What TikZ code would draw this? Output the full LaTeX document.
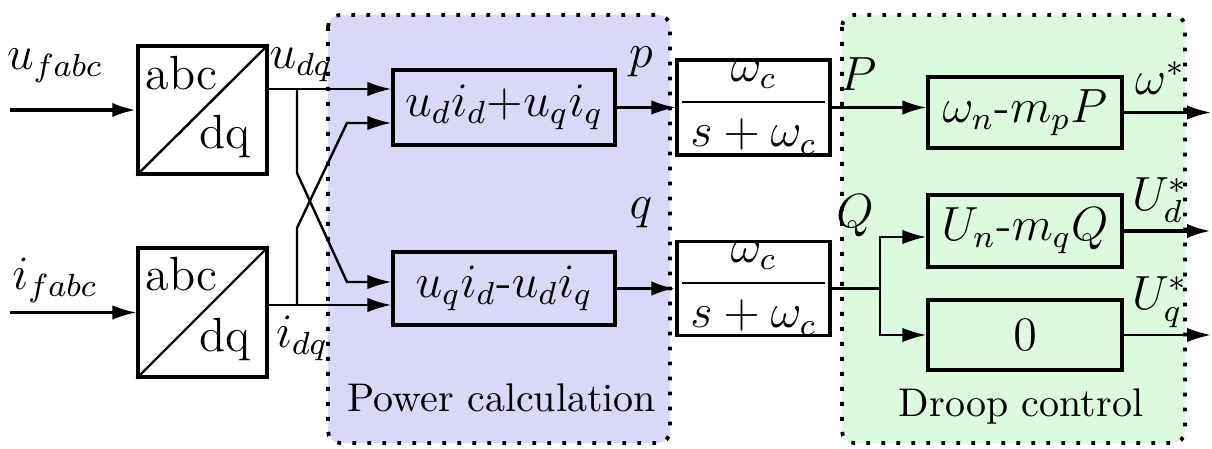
\documentclass[tikz,border=0pt]{standalone}
\usetikzlibrary{arrows.meta,calc}
\definecolor{pcfill}{RGB}{216,216,248}
\definecolor{dcfill}{RGB}{220,250,220}
\tikzset{
  blk/.style={draw, line width=0.8pt, inner sep=0pt, font=\large},
  arr/.style={line width=0.6pt, -{Latex[length=6pt,width=3.6pt]}},
  ln/.style={line width=0.6pt},
  region/.style={line width=0.95pt, dash pattern=on 0.95pt off 2.8pt, rounded corners=3pt},
  lbl/.style={font=\large, inner sep=0pt},
}
\begin{document}
\begin{tikzpicture}[x=0.25pt,y=-0.25pt]
\useasboundingbox (0,0) rectangle (1212,449);
% regions
\path[region, fill=pcfill, draw=black] (328,15) rectangle (670,443);
\path[region, fill=dcfill, draw=black] (842,15) rectangle (1185,443);
\node[font=\normalsize, inner sep=0pt] (pclab) at (502,398) {Power calculation};
\node[font=\normalsize, inner sep=0pt] (dclab) at (1021,407) {Droop control};

% abc/dq blocks
\node[blk, fill=white, minimum width=32.25pt, minimum height=32pt] (abc1) at (202.5,110) {};
\node[blk, fill=white, minimum width=32.25pt, minimum height=32.25pt] (abc2) at (202.5,312.5) {};
\draw[line width=0.6pt] (abc1.south west) -- (abc1.north east);
\draw[line width=0.6pt] (abc2.south west) -- (abc2.north east);
\node[lbl] (abc1t) at (181.5,73) {abc};
\node[lbl] (dq1t) at (225,137) {dq};
\node[lbl] (abc2t) at (181.5,274) {abc};
\node[lbl] (dq2t) at (225,340) {dq};

% power calculation blocks
\node[blk, minimum width=55.5pt, minimum height=18.75pt] (pc1) at (504,107.5) {$u_di_d$+$u_qi_q$};
\node[blk, minimum width=55.5pt, minimum height=18.25pt] (pc2) at (504,288.5) {$u_qi_d$-$u_di_q$};

% filters
\node[blk, fill=white, minimum width=38.25pt, minimum height=23.75pt] (f1) at (753.5,107.5) {$\displaystyle\frac{\omega_c}{\mkern3mu s+\omega_c\mkern3mu}$};
\node[blk, fill=white, minimum width=38.25pt, minimum height=23.25pt] (f2) at (753.5,288.5) {$\displaystyle\frac{\omega_c}{\mkern3mu s+\omega_c\mkern3mu}$};

% droop blocks
\node[blk, minimum width=48.5pt, minimum height=17.75pt] (d1) at (1025,112.5) {$\omega_n$-$m_pP$};
\node[blk, minimum width=48.5pt, minimum height=18pt] (d2) at (1025,231) {$U_n$-$m_qQ$};
\node[blk, minimum width=48.5pt, minimum height=17.5pt] (d3) at (1025,335) {$0$};

% coordinates
\coordinate (uin) at (10,110);
\coordinate (iin) at (10,312.5);
\coordinate (R) at (1211,0);
\coordinate (bu) at (297,89);
\coordinate (bu1) at (297,173);
\coordinate (bu2) at (347,282);
\coordinate (bi) at (297,305);
\coordinate (bi1) at (297,228);
\coordinate (bi2) at (347,123);
\coordinate (qb) at (880,288.5);

% inputs
\draw[arr, line width=1pt] (uin) -- (abc1.west);
\draw[arr] (iin) -- (abc2.west);
\node[lbl] (ufabc) at (55,66) {$u_{fabc}$};
\node[lbl] (ifabc) at (55,280) {$i_{fabc}$};

% dq outputs
\draw[arr] ([yshift=5.25pt]abc1.east) -- ([yshift=5.25pt]abc1.east -| pc1.west);
\draw[arr] ([yshift=1.875pt]abc2.east) -- ([yshift=1.875pt]abc2.east -| pc2.west);
\draw[arr] (bu) -- (bu1) -- (bu2) -- (bu2 -| pc2.west);
\draw[arr] (bi) -- (bi1) -- (bi2) -- (bi2 -| pc1.west);
\node[lbl] (udq) at (301,65) {$u_{dq}$};
\node[lbl] (idq) at (302,338) {$i_{dq}$};

% p, q
\draw[arr] (pc1.east) -- (f1.west);
\draw[arr, line width=0.9pt] (pc2.east) -- (f2.west);
\node[lbl] (plab) at (641,62) {$p$};
\node[lbl] (qlab) at (641,213) {$q$};

% P, Q
\draw[arr] (f1.east) -- (f1.east -| d1.west);
\draw[ln] (f2.east) -- (qb);
\draw[arr] (qb) |- ([yshift=-1.5pt]d2.west);
\draw[arr] (qb) |- (d3.west);
\node[lbl] (Plab) at (858,74) {$P$};
\node[lbl] (Qlab) at (855,216) {$Q$};

% outputs
\draw[arr] (d1.east) -- (d1.east -| R);
\draw[arr, line width=0.9pt] (d2.east) -- (d2.east -| R);
\draw[arr] (d3.east) -- (d3.east -| R);
\node[lbl] (wlab) at (1160,78) {$\omega^*$};
\node[lbl] (Udlab) at (1160,200) {$U^*_d$};
\node[lbl] (Uqlab) at (1160,302) {$U^*_q$};
\end{tikzpicture}
\end{document}
